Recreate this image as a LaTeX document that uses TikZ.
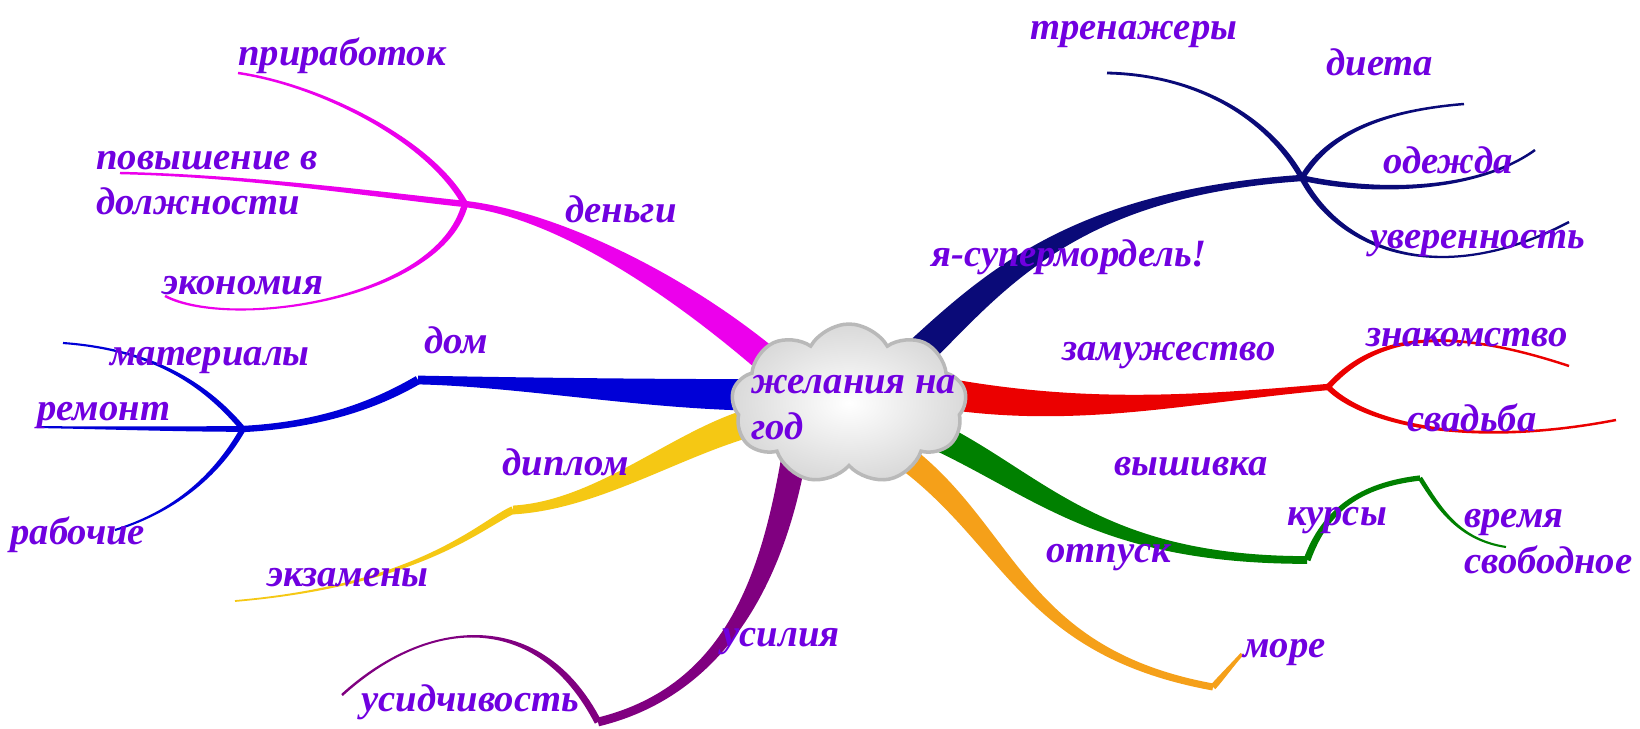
\documentclass[tikz,border=0pt]{standalone}
\usepackage{fontspec}
\setmainfont{Liberation Serif}
\usetikzlibrary{calc,shapes.symbols}

\definecolor{ink}{RGB}{112,0,224}
\definecolor{pinkb}{RGB}{236,0,236}
\definecolor{blueb}{RGB}{0,0,215}
\definecolor{yellowb}{RGB}{245,200,20}
\definecolor{purpleb}{RGB}{128,0,128}
\definecolor{navyb}{RGB}{10,10,120}
\definecolor{redb}{RGB}{235,0,0}
\definecolor{greenb}{RGB}{0,128,0}
\definecolor{orangeb}{RGB}{245,160,25}

% tapered branch: colour, from, c1, c2, to, half width at from, half width at to
\newcommand\taper[7]{%
  \fill[#1] ($(#2)!#6!90:(#3)$)
    .. controls ($(#3)+(#2)!#6!90:(#3)-(#2)$) and ($(#4)+(#5)!#7!-90:(#4)-(#5)$)
    .. ($(#5)!#7!-90:(#4)$)
    -- ($(#5)!#7!90:(#4)$)
    .. controls ($(#4)+(#5)!#7!90:(#4)-(#5)$) and ($(#3)+(#2)!#6!-90:(#3)-(#2)$)
    .. ($(#2)!#6!-90:(#3)$) -- cycle;}

\begin{document}
\begin{tikzpicture}[x=0.02cm, y=-0.02cm,
    lbl/.style={text=ink, inner sep=0pt, anchor=base west, align=left,
      font=\fontsize{22}{26}\selectfont\bfseries\itshape},
    wishcloud/.style={cloud, cloud puffs=9, cloud puff arc=120, aspect=1.5,
      minimum width=4.7cm, minimum height=3.2cm, draw=gray!55, line width=2pt,
      inner color=white, outer color=gray!30}
  ]
  \useasboundingbox[fill=white] (0,0) rectangle (1640,729);

  % hubs
  \coordinate (money) at (465,204);
  \coordinate (home) at (243,429);
  \coordinate (homebend) at (418,380);
  \coordinate (diploma) at (513,510);
  \coordinate (effort) at (598,722);
  \coordinate (model) at (1302,178);
  \coordinate (marriage) at (1328,387);
  \coordinate (embroid) at (1307,560);
  \coordinate (embroidtop) at (1420,478);
  \coordinate (holiday) at (1213,687);

  % main branches
  \taper{pinkb}{790,380}{690,290}{560,215}{money}{8pt}{1.8pt}
  \taper{blueb}{770,395}{650,395}{520,382}{homebend}{9pt}{2.5pt}
  \taper{blueb}{homebend}{375,405}{320,425}{home}{2.5pt}{1.8pt}
  \taper{yellowb}{760,420}{680,440}{600,505}{diploma}{8pt}{2.5pt}
  \taper{purpleb}{795,450}{775,570}{730,690}{effort}{7pt}{2.5pt}
  \taper{navyb}{890,380}{980,300}{1050,195}{model}{9pt}{1.8pt}
  \taper{redb}{900,385}{1060,420}{1180,400}{marriage}{9pt}{1.8pt}
  \taper{greenb}{900,420}{1030,470}{1080,560}{embroid}{8pt}{2.2pt}
  \taper{orangeb}{880,440}{1010,520}{1010,650}{holiday}{7pt}{2pt}

  % twigs
  \taper{pinkb}{money}{430,140}{320,85}{238,73}{1.8pt}{0.7pt}
  \taper{pinkb}{money}{380,195}{250,176}{120,173}{1.8pt}{0.7pt}
  \taper{pinkb}{money}{440,300}{230,330}{165,296}{1.8pt}{0.7pt}
  \taper{blueb}{home}{210,390}{160,350}{63,343}{1.6pt}{0.6pt}
  \taper{blueb}{home}{180,429}{100,428}{37,427}{1.6pt}{0.6pt}
  \taper{blueb}{home}{220,470}{180,510}{115,530}{1.6pt}{0.6pt}
  \taper{yellowb}{diploma}{480,525}{420,585}{235,601}{2.2pt}{0.5pt}
  \taper{purpleb}{effort}{540,610}{430,615}{342,695}{2pt}{0.7pt}
  \taper{navyb}{model}{1270,120}{1200,75}{1107,73}{1.6pt}{0.8pt}
  \taper{navyb}{model}{1330,130}{1390,110}{1464,104}{1.6pt}{0.7pt}
  \taper{navyb}{model}{1380,195}{1480,190}{1535,150}{1.6pt}{0.7pt}
  \taper{navyb}{model}{1340,250}{1440,290}{1569,222}{1.6pt}{0.7pt}
  \taper{redb}{marriage}{1375,335}{1445,325}{1569,366}{1.6pt}{0.7pt}
  \taper{redb}{marriage}{1360,420}{1460,450}{1616,420}{1.6pt}{0.7pt}
  \taper{greenb}{embroid}{1325,510}{1360,485}{embroidtop}{2pt}{1.5pt}
  \taper{greenb}{embroidtop}{1440,510}{1460,540}{1506,547}{1.3pt}{0.6pt}
  \taper{orangeb}{holiday}{1222,677}{1232,665}{1242,654}{1.8pt}{1pt}

  % centre
  \node[wishcloud] (cloud) at (849,404) {};
  \node[lbl] (wish) at (751,439) {желания на\\год};

  % labels
  \node[lbl] (extra) at (238,66) {приработок};
  \node[lbl] (promo) at (96,215) {повышение в\\должности};
  \node[lbl] (saving) at (162,295) {экономия};
  \node[lbl] (moneyt) at (565,223) {деньги};
  \node[lbl] (material) at (110,366) {материалы};
  \node[lbl] (homet) at (424,354) {дом};
  \node[lbl] (repair) at (37,420) {ремонт};
  \node[lbl] (workers) at (10,544) {рабочие};
  \node[lbl] (diplomat) at (502,476) {диплом};
  \node[lbl] (exams) at (267,586) {экзамены};
  \node[lbl] (effortt) at (722,646) {усилия};
  \node[lbl] (patience) at (361,711) {усидчивость};
  \node[lbl] (gym) at (1030,40) {тренажеры};
  \node[lbl] (diet) at (1326,76) {диета};
  \node[lbl] (clothes) at (1383,174) {одежда};
  \node[lbl] (modelt) at (931,267) {я-супермордель!};
  \node[lbl] (confid) at (1370,249) {уверенность};
  \node[lbl] (marriaget) at (1062,361) {замужество};
  \node[lbl] (meeting) at (1366,347) {знакомство};
  \node[lbl] (wedding) at (1407,432) {свадьба};
  \node[lbl] (embroidt) at (1114,476) {вышивка};
  \node[lbl] (courses) at (1287,525) {курсы};
  \node[lbl] (freetime) at (1464,573) {время\\свободное};
  \node[lbl] (holidayt) at (1046,562) {отпуск};
  \node[lbl] (sea) at (1243,657) {море};
\end{tikzpicture}
\end{document}
